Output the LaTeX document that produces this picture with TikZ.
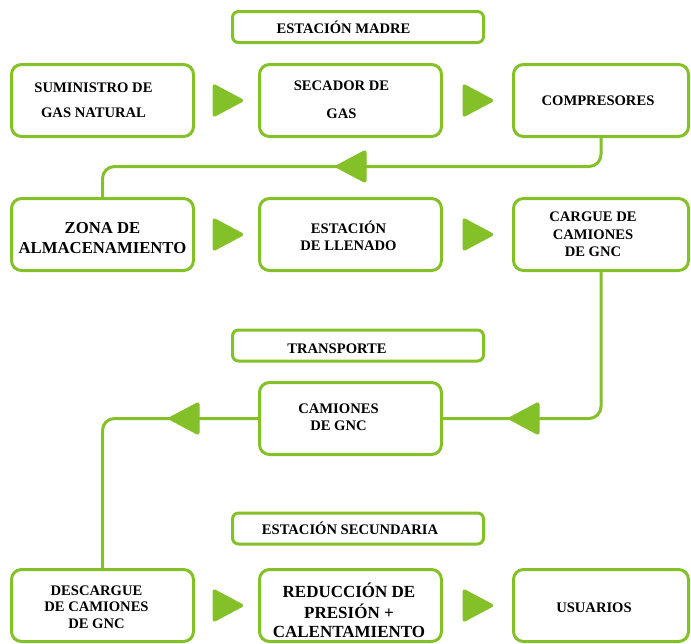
\documentclass[tikz,border=0pt]{standalone}
\usepackage{fontspec}
\setmainfont{Liberation Serif}
\usetikzlibrary{calc}
\definecolor{gr}{RGB}{132,192,40}
\newcommand\tb[1]{\begin{tabular}{@{}c@{}}#1\end{tabular}}
\newcommand\dn[2]{\raisebox{-#1}[\height][\depth]{#2}}
\begin{document}
\begin{tikzpicture}[x=1pt,y=-1pt,
  box/.style={draw=gr,line width=3pt,rounded corners=10pt,minimum width=182pt,minimum height=72pt,
    inner sep=0pt,font=\bfseries\fontsize{14.6}{17}\selectfont},
  bigbox/.style={box,font=\bfseries\fontsize{16.7}{20}\selectfont},
  titlebox/.style={draw=gr,line width=3pt,rounded corners=6pt,minimum width=251pt,minimum height=31pt,
    inner sep=0pt,font=\bfseries\fontsize{14.6}{16}\selectfont},
  conn/.style={draw=gr,line width=3pt,rounded corners=12pt},
  tri/.style={fill=gr,draw=gr,line width=1pt,rounded corners=2.5pt,line join=round}]
\useasboundingbox (0,0) rectangle (691,643);

% titles
\node[titlebox] (t1) at (358,27) {ESTACIÓN MADRE\hspace*{29pt}};
\node[titlebox] (t2) at (358,345.5) {\dn{3pt}{TRANSPORTE}\hspace*{42pt}};
\node[titlebox] (t3) at (358,528.5) {ESTACIÓN SECUNDARIA\hspace*{16pt}};

% row 1
\node[box] (a1) at (102.5,100.5) {\dn{1pt}{\tb{SUMINISTRO DE\\[8pt]GAS NATURAL}}\hspace*{18pt}};
\node[box] (a2) at (350.5,100.5) {\dn{1pt}{\tb{SECADOR DE\\[11pt]GAS}}\hspace*{18pt}};
\node[box,minimum width=175pt] (a3) at (601,100.5) {COMPRESORES\hspace*{6pt}};
% row 2
\node[bigbox] (b1) at (102.5,234.5) {\dn{5pt}{\tb{ZONA DE\\ALMACENAMIENTO}}};
\node[box] (b2) at (350.5,234.5) {\dn{4pt}{\tb{ESTACIÓN\\DE LLENADO}}\hspace*{4pt}};
\node[box,minimum width=175pt,font=\bfseries\fontsize{14.6}{17.5}\selectfont] (b3) at (601,234.5) {\dn{1pt}{\tb{CARGUE DE\\CAMIONES\\DE GNC}}\hspace*{16pt}};
% transport
\node[box] (c1) at (350.5,418.5) {\tb{CAMIONES\\DE GNC}\hspace*{24pt}};
% row 3
\node[box,font=\bfseries\fontsize{14.6}{16.5}\selectfont] (d1) at (102.5,605.5) {\dn{3pt}{\tb{DESCARGUE\\DE CAMIONES\\DE GNC}}\hspace*{12pt}};
\node[bigbox,font=\bfseries\fontsize{17}{19.5}\selectfont] (d2) at (350.5,605.5) {\dn{8pt}{\tb{REDUCCIÓN DE\\PRESIÓN +\\CALENTAMIENTO}}\hspace*{3pt}};
\node[box,minimum width=175pt] (d3) at (601,605.5) {\dn{2pt}{USUARIOS}\hspace*{14pt}};

% connectors
\coordinate (k1) at (0,166.5);
\coordinate (k2) at (0,418.5);
\draw[conn] (a3.south) -- (a3.south |- k1) -- (b1.north |- k1) -- (b1.north);
\draw[conn] (b3.south) -- (b3.south |- k2) -- (c1.east);
\draw[conn] (c1.west) -- (d1.north |- k2) -- (d1.north);

% arrowheads (right)
\foreach \x in {213,463}{
  \foreach \y in {100.5,234.5,605.5}{
    \filldraw[tri] (\x,\y-16.5) -- (\x+31,\y) -- (\x,\y+16.5) -- cycle;
  }
}
% arrowheads (left)
\filldraw[tri] (335,166.5) -- (366,150) -- (366,183) -- cycle;
\filldraw[tri] (508,418.5) -- (539,402) -- (539,435) -- cycle;
\filldraw[tri] (168,418.5) -- (199,402) -- (199,435) -- cycle;
\end{tikzpicture}
\end{document}
